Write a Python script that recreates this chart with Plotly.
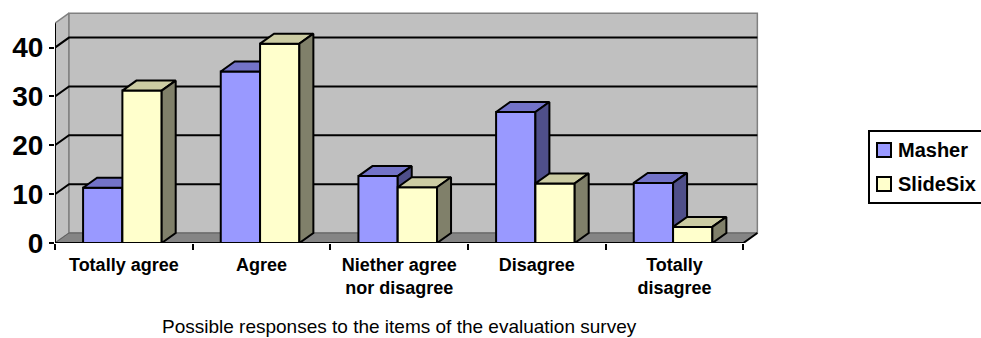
import plotly.graph_objects as go

# ---------------- data ----------------
categories = ["Totally agree", "Agree", "Niether agree<br>nor disagree", "Disagree", "Totally<br>disagree"]
series_names = ["Masher", "SlideSix"]
masher = [11.3, 35.1, 13.7, 26.8, 12.3]
slidesix = [31.2, 40.8, 11.4, 12.2, 3.3]
y_ticks = [0, 10, 20, 30, 40]
x_title = "Possible responses to the items of the evaluation survey"

# ---------------- style / geometry ----------------
FONT = "Liberation Sans, Arial, sans-serif"
DU, DV = 0.1017, 2.047          # 3-D depth offset in data units
BAR_START, BAR_W = 0.204, 0.2855
WALL_TOP = 45
N = len(categories)
faces = {
    "Masher": ("#9999FF", "#7373C8", "#4F4F8A"),
    "SlideSix": ("#FFFFCC", "#CCCCA3", "#80806A"),
}
# plot-area pixel frame (for placing the legend box)
L, T, W, H = 55, 8, 709, 235
def px(x): return (x - L) / W
def py(y): return (T + H - y) / H

fig = go.Figure()

def poly(xs, ys, fill, line="black", lw=2):
    fig.add_trace(go.Scatter(x=xs, y=ys, mode="lines", fill="toself", fillcolor=fill,
                             line=dict(color=line, width=lw), hoverinfo="skip",
                             showlegend=False))

# walls and floor
poly([0, DU, DU, 0, 0], [0, DV, WALL_TOP + DV, WALL_TOP, 0], "#C0C0C0", "#808080", 1.5)
poly([DU, N + DU, N + DU, DU, DU], [DV, DV, WALL_TOP + DV, WALL_TOP + DV, DV], "#C0C0C0", "#808080", 1.5)
poly([0, N, N + DU, DU, 0], [0, 0, DV, DV, 0], "#858585", "#606060", 1)

# gridlines on back and side walls
gx, gy = [], []
for t in y_ticks[1:]:
    gx += [0, DU, N + DU, None]
    gy += [t, t + DV, t + DV, None]
fig.add_trace(go.Scatter(x=gx, y=gy, mode="lines", line=dict(color="black", width=2),
                         hoverinfo="skip", showlegend=False))

# axis lines
fig.add_trace(go.Scatter(x=[0, 0], y=[0, WALL_TOP], mode="lines",
                         line=dict(color="black", width=2), hoverinfo="skip", showlegend=False))
fig.add_trace(go.Scatter(x=[0, N, N + DU], y=[0, 0, DV], mode="lines",
                         line=dict(color="black", width=2), hoverinfo="skip", showlegend=False))

# 3-D bars
for j, (name, vals) in enumerate(zip(series_names, [masher, slidesix])):
    front_c, top_c, side_c = faces[name]
    fx, fy, tx, ty, sx, sy = [], [], [], [], [], []
    for i, v in enumerate(vals):
        x0 = i + BAR_START + j * BAR_W
        x1 = x0 + BAR_W
        fx += [x0, x1, x1, x0, x0, None]
        fy += [0, 0, v, v, 0, None]
        tx += [x0, x1, x1 + DU, x0 + DU, x0, None]
        ty += [v, v, v + DV, v + DV, v, None]
        sx += [x1, x1 + DU, x1 + DU, x1, x1, None]
        sy += [0, DV, v + DV, v, 0, None]
    for xs, ys, c in [(fx, fy, front_c), (tx, ty, top_c), (sx, sy, side_c)]:
        poly(xs, ys, c)

# legend (box, swatches, labels)
shapes = [dict(type="rect", xref="paper", yref="paper", x0=px(869), x1=px(990),
               y0=py(203), y1=py(131), line=dict(color="black", width=2), fillcolor="white")]
annotations = []
for k, name in enumerate(series_names):
    cy = 150 + k * 34
    shapes.append(dict(type="rect", xref="paper", yref="paper", x0=px(877), x1=px(891),
                       y0=py(cy + 7), y1=py(cy - 7), fillcolor=faces[name][0],
                       line=dict(color="black", width=2)))
    annotations.append(dict(text=name, xref="paper", yref="paper", x=px(896), y=py(cy),
                            xanchor="left", yanchor="middle", showarrow=False,
                            font=dict(family=FONT, size=20, color="black", weight="bold")))

annotations.append(dict(text=x_title, xref="x", x=2.5, yref="paper", y=py(326),
                        xanchor="center", yanchor="middle", showarrow=False,
                        font=dict(family=FONT, size=19, color="black")))

fig.update_layout(
    width=981, height=338,
    margin=dict(l=55, r=217, t=8, b=95, autoexpand=False),
    paper_bgcolor="white", plot_bgcolor="white",
    showlegend=False,
    xaxis=dict(range=[0, 5.15], showgrid=False, zeroline=False, showline=False,
               tickvals=[i + 0.5 for i in range(N)], ticktext=categories, ticks="",
               ticklabelstandoff=9,
               tickfont=dict(family=FONT, size=18, color="black", weight="bold"),
               minor=dict(tickvals=list(range(N + 1)), ticks="outside", ticklen=6,
                          tickwidth=2, tickcolor="black", showgrid=False)),
    yaxis=dict(range=[0, 48.1], showgrid=False, zeroline=False, showline=False,
               tickvals=y_ticks, ticks="outside", ticklen=5, tickwidth=2, tickcolor="black",
               tickfont=dict(family=FONT, size=28, color="black", weight="bold")),
    shapes=shapes,
    annotations=annotations,
)

fig.write_html("out.html")
